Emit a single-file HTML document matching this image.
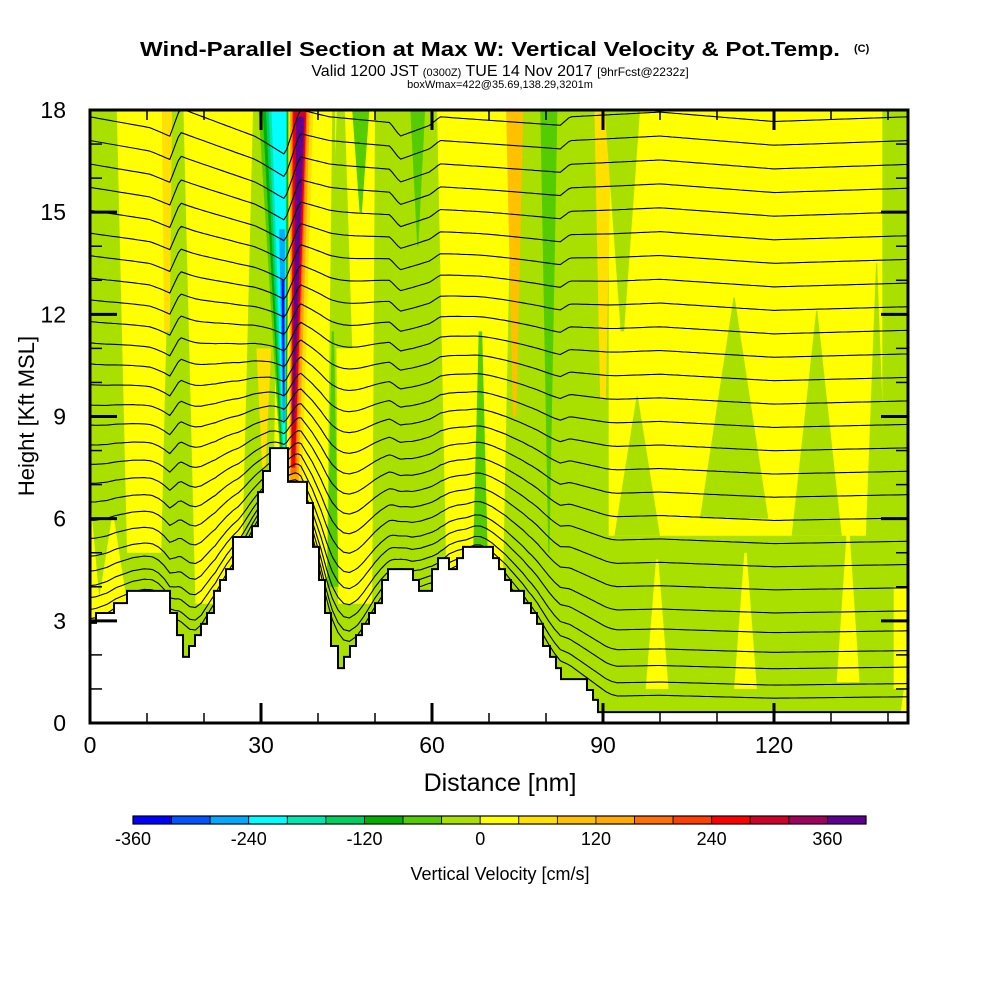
<!DOCTYPE html>
<html><head><meta charset="utf-8"><style>
body{margin:0;background:#fff;width:1000px;height:1000px;overflow:hidden}
svg text{font-family:"Liberation Sans",sans-serif}
</style></head><body>
<svg id="chart" width="1000" height="1000" viewBox="0 0 1000 1000" xmlns="http://www.w3.org/2000/svg">
<text x="490" y="56" text-anchor="middle" font-size="20" font-weight="bold" textLength="700" lengthAdjust="spacingAndGlyphs">Wind-Parallel Section at Max W: Vertical Velocity &amp; Pot.Temp.</text>
<text x="854" y="52" font-size="11" font-weight="bold">(C)</text>
<text x="500" y="76" text-anchor="middle" font-size="16">Valid 1200 JST <tspan font-size="11">(0300Z)</tspan> TUE 14 Nov 2017 <tspan font-size="12">[9hrFcst@2232z]</tspan></text>
<text x="500" y="88" text-anchor="middle" font-size="11">boxWmax=422@35.69,138.29,3201m</text>
<defs><clipPath id="pc"><rect x="90" y="110" width="818" height="613"/></clipPath></defs>
<g id="plot" clip-path="url(#pc)"></g>
<g id="axes"></g>
<text x="500" y="791" text-anchor="middle" font-size="25">Distance [nm]</text>
<text transform="translate(34,416) rotate(-90)" text-anchor="middle" font-size="22">Height [Kft MSL]</text>
<g id="cbar"></g>
<text x="500" y="880" text-anchor="middle" font-size="18">Vertical Velocity [cm/s]</text>
</svg>
<script>
// ---- data ----
const xTicks=[0,30,60,90,120];
const yTicks=[0,3,6,9,12,15,18];
const cbarLabels=[-360,-240,-120,0,120,240,360];
const cbarColors=["#0000ff","#0055ff","#00aaff","#00ffff","#00e8b0","#00d060","#00b000","#55cc00","#aae000","#ffff00","#ffe000","#ffc000","#ffaa00","#ff7000","#ff4000","#ff0000","#d0002a","#a00060","#600090"];
// terrain steps (nm, kft)
const terrainX=[0,1.05,4.21,6.49,14.04,15.26,16.32,17.37,18.42,19.47,20.53,21.75,22.81,23.86,25.09,28.42,29.47,30.35,31.58,34.74,38.07,39.12,40.18,41.23,42.28,43.51,44.56,45.61,46.67,47.72,48.95,50.0,51.23,52.28,56.67,57.72,60.0,61.05,62.98,64.39,65.44,70.7,71.75,72.81,73.86,76.14,77.37,78.42,79.47,80.7,81.75,82.63,87.19,88.25,89.12];
const terrainH=[2.94,3.23,3.52,3.88,3.23,2.58,1.94,2.26,2.58,2.91,3.23,3.88,4.2,4.52,5.46,5.78,6.78,7.4,8.07,7.08,6.46,5.17,4.2,3.23,2.26,1.61,1.94,2.26,2.58,2.91,3.23,3.52,4.2,4.52,4.2,3.88,4.52,4.84,4.52,4.84,5.17,4.84,4.52,4.2,3.88,3.52,3.23,2.91,2.26,1.94,1.61,1.29,0.97,0.68,0.32];
// vertical velocity bands: center nm, half-width top, half-width bottom, top kft, bottom kft, value cm/s
const bandX=[9.5,22.5,34.5,38.5,46.5,67.5,115,142.5,13.5,90,4,44,47.5,42.6,85.4,93.4,96,113,127.5,80.5,138,133,142.5,115,99.5,145,74.5,57.5,68.5,30.5,0];
const bandHwT=[4.8,6.1,1.5,4,3.5,6.6,24,1.5,0.9,1.5,0.2,0.7,1.5,0.2,1.5,3.1,0.1,0.1,0.1,1.5,0.1,0.1,1.5,0.2,0.2,0.3,1.5,1.3,0.3,1.3,0.1];
const bandHwB=[3,4,2.5,3,3,5,24,4,0.5,0.5,3,2,0.2,1,0.3,0.3,4,6,4.4,0.1,2,2,1.5,2,2,3,0.3,0.1,1.5,0.3,2];
const bandTop=[18,18,18,18,18,18,18,18.2,18,18,6,18,18,11.5,18,18,9.6,12.5,12.1,18,13.5,6,4,5,4.8,3.5,18,18,11.5,11,6.5];
const bandBot=[5,3.5,3,3.5,3.5,4.5,5.5,0,11.5,9.5,3,11,15,4,13,11.5,5.5,6,5.5,5,5,1.2,1,1,1,0,9,14,3.5,7.5,3];
const bandVal=[20,20,20,20,20,20,20,-20,60,60,20,-20,-60,-60,-20,-20,-20,-20,-20,-60,-20,20,20,20,20,20,100,-60,-60,60,20];
// updraft/downdraft plume layers
const plumeTL=[29.5,30.2,30.8,31.3,31.8,33.2,33.6,34.8,35.1,35.4,35.6,35.9,36.2];
const plumeTR=[35.0,34.8,34.6,34.5,34.4,34.2,34.1,39.2,38.6,38.2,38.0,37.8,37.6];
const plumeBL=[33.6,33.7,33.8,33.9,34.0,33.8,33.9,34.9,35.1,35.2,35.3,35.4,35.5];
const plumeBR=[34.5,34.4,34.3,34.3,34.2,34.2,34.1,37.2,36.6,36.2,36.0,35.9,35.8];
const plumeTop=[18.2,18.2,18.2,18.2,18.2,14.5,13.0,18.2,18.2,18.2,18.2,18.2,17.8];
const plumeBot=[7.2,7.3,7.4,7.5,7.6,8.8,9.6,7.0,7.1,7.3,7.5,7.8,8.8];
const plumeVal=[-60,-100,-140,-180,-220,-260,-340,60,140,180,260,300,360];
// potential temperature contours: base heights kft
const thetaBase=[17.8,17.1,16.4,15.7,15.0,14.3,13.6,12.9,12.2,11.5,10.8,10.1,9.4,8.7,8.0,7.3,6.6,5.9,5.2,4.5,3.8,3.1,2.5,1.9,1.4,0.9,0.5];
const wigX=[0,10.5,14,15.8,28.9,30.2,34.2,36.8,42,52.6,54.4,59.6,61.4,82.5,84.2,100,120,143.5];
const wigY=[0,-0.23,-0.41,0.18,-0.41,-0.5,-0.8,0.15,0,-0.12,-0.41,-0.18,0,-0.18,0,0.1,-0.1,0];

// ---- scales ----
const X0=90,X1=908,Y0=723,Y1=110;
const sx=v=>X0+v*5.7;
const sy=v=>Y0-v*(Y0-Y1)/18;
const col=v=>cbarColors[Math.max(0,Math.min(18,Math.floor((v+360)/40)))];
const NS="http://www.w3.org/2000/svg";
function mk(tag,attrs,parent){const e=document.createElementNS(NS,tag);for(const k in attrs)e.setAttribute(k,attrs[k]);parent.appendChild(e);return e;}
const plot=document.getElementById('plot');
const axes=document.getElementById('axes');
const cbar=document.getElementById('cbar');

let bg=mk('rect',{x:X0,y:Y1,width:X1-X0,height:Y0-Y1,fill:col(-20)},plot);


for(let i=0;i<bandX.length;i++){
  const p=[[bandX[i]-bandHwT[i],bandTop[i]],[bandX[i]+bandHwT[i],bandTop[i]],[bandX[i]+bandHwB[i],bandBot[i]],[bandX[i]-bandHwB[i],bandBot[i]]];
  const e=mk('polygon',{points:p.map(q=>sx(q[0])+','+sy(q[1])).join(' '),fill:col(bandVal[i])},plot);
  
  
}
for(let i=0;i<plumeTL.length;i++){
  const p=[[plumeTL[i],plumeTop[i]],[plumeTR[i],plumeTop[i]],[plumeBR[i],plumeBot[i]],[plumeBL[i],plumeBot[i]]];
  const e=mk('polygon',{points:p.map(q=>sx(q[0])+','+sy(q[1])).join(' '),fill:col(plumeVal[i])},plot);
  
  
}
function terr(x){let h=terrainH[0];for(let i=0;i<terrainX.length;i++){if(x>=terrainX[i])h=terrainH[i];}return h;}
function terrSmooth(x){let s=0,n=0;for(let d=-3;d<=3;d+=0.5){s+=terr(Math.max(0,Math.min(143.5,x+d)));n++;}return s/n;}
function wig(x){for(let i=1;i<wigX.length;i++){if(x<=wigX[i]){const t=(x-wigX[i-1])/(wigX[i]-wigX[i-1]);return wigY[i-1]+t*(wigY[i]-wigY[i-1]);}}return 0;}
for(let j=0;j<thetaBase.length;j++){
  const b=thetaBase[j];let d='';
  const f=Math.pow(1-b/18,2.2);
  for(let x=0;x<=143.6;x+=0.5){
    const T=terrSmooth(x);
    const y=b+wig(x)*(0.4+b/18)+T*f*0.9;
    d+=(x===0?'M':'L')+sx(x).toFixed(1)+','+sy(y).toFixed(1);
  }
  const e=mk('path',{d:d,fill:'none',stroke:'#000','stroke-width':1.1},plot);
  
  
}
{let pts=[[sx(0),Y0+2]];
 for(let i=0;i<terrainX.length;i++){
   const xa=sx(terrainX[i]),xb=i+1<terrainX.length?sx(terrainX[i+1]):X1+2;
   pts.push([xa,sy(terrainH[i])],[xb,sy(terrainH[i])]);
 }
 pts.push([X1+2,Y0+2]);
 const e=mk('polygon',{points:pts.map(q=>q[0]+','+q[1]).join(' '),fill:'#fff',stroke:'#000','stroke-width':2},plot);
 
 
}
let fr=mk('rect',{x:X0,y:Y1,width:X1-X0,height:Y0-Y1,fill:'none',stroke:'#000','stroke-width':3},axes);


for(let v=0;v<=143;v+=10){
  const major=xTicks.includes(v);const L=major?20:10;
  mk('line',{x1:sx(v),x2:sx(v),y1:Y0,y2:Y0-L,stroke:'#000','stroke-width':major?3:1.5},axes);
  mk('line',{x1:sx(v),x2:sx(v),y1:Y1,y2:Y1+L,stroke:'#000','stroke-width':major?3:1.5},axes);
}
for(let v=0;v<=18;v++){
  const major=yTicks.includes(v);const L=major?27:12;
  mk('line',{x1:X0,x2:X0+L,y1:sy(v),y2:sy(v),stroke:'#000','stroke-width':major?3:1.5},axes);
  mk('line',{x1:X1,x2:X1-L,y1:sy(v),y2:sy(v),stroke:'#000','stroke-width':major?3:1.5},axes);
}
xTicks.forEach(v=>{const t=mk('text',{x:sx(v),y:753,'text-anchor':'middle','font-size':23},axes);t.textContent=v;
  
  });
yTicks.forEach(v=>{const t=mk('text',{x:66,y:sy(v)+8,'text-anchor':'end','font-size':23},axes);t.textContent=v;
  
  });
const CB0=133,CBW=(866-133)/19;
cbarColors.forEach((c,i)=>{const r=mk('rect',{x:CB0+i*CBW,y:816,width:CBW,height:8,fill:c,stroke:'#000','stroke-width':0.8},cbar);
  
  });
mk('rect',{x:CB0,y:816,width:866-CB0,height:8,fill:'none',stroke:'#000','stroke-width':1.2},cbar);
cbarLabels.forEach(v=>{const t=mk('text',{x:CB0+(v+360)/40*CBW,y:845,'text-anchor':'middle','font-size':18},cbar);t.textContent=v;
  
  });
</script>
</body></html>
